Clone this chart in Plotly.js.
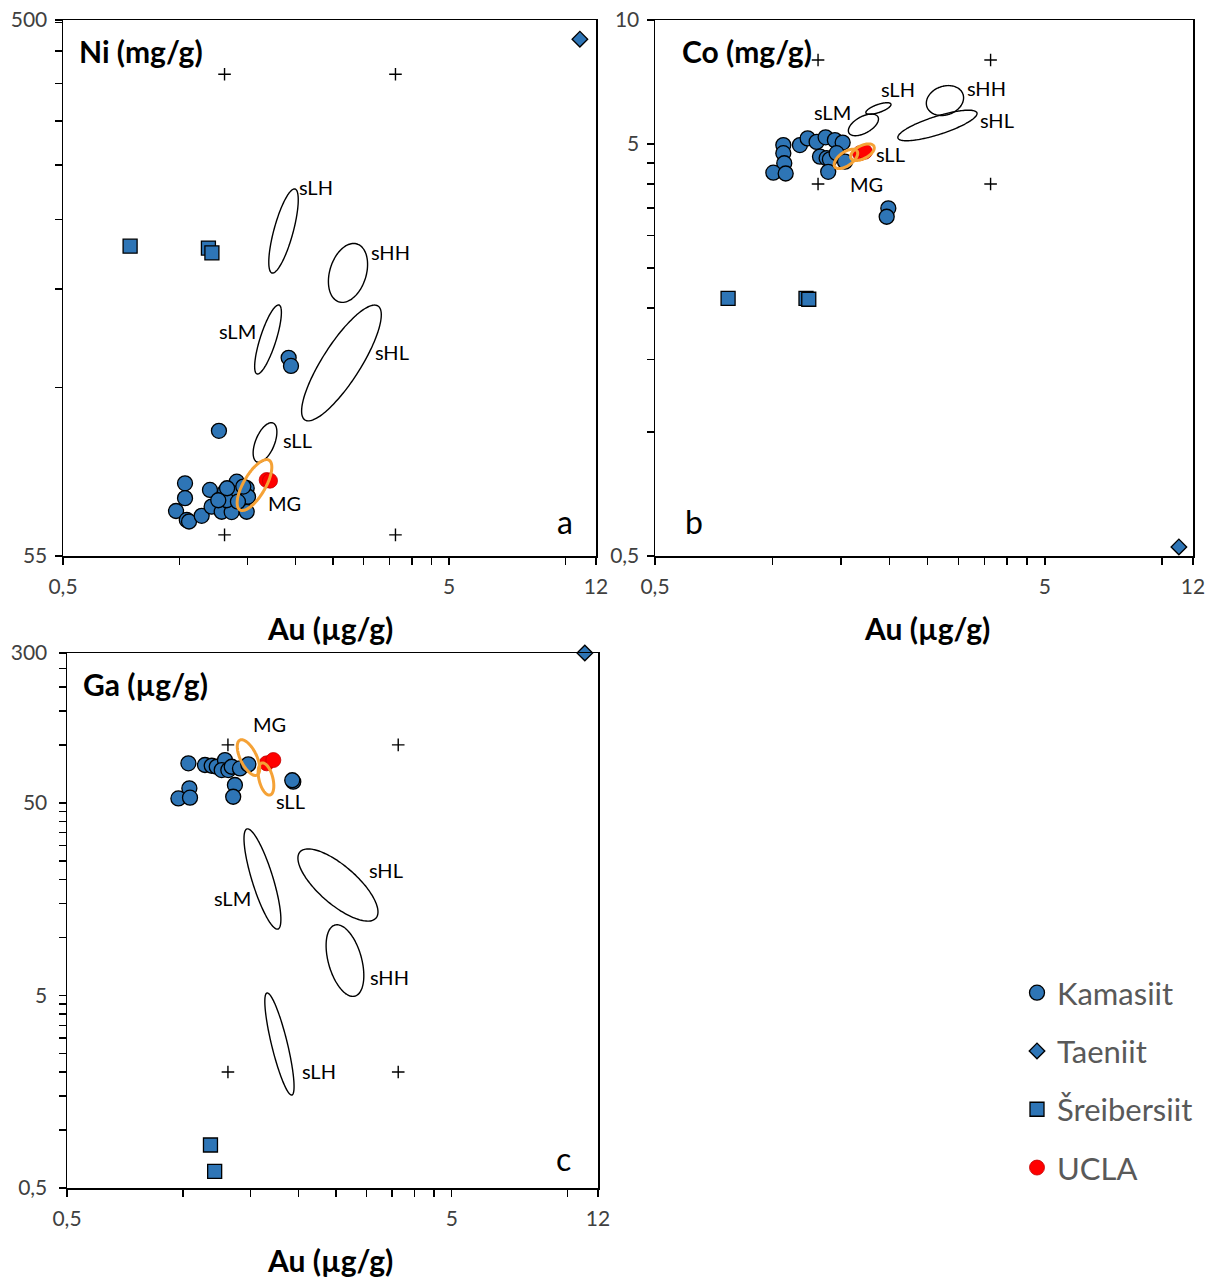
<!DOCTYPE html>
<html><head><meta charset="utf-8">
<script src="https://cdn.plot.ly/plotly-3.0.1.min.js"></script>
<style>html,body{margin:0;padding:0;background:#fff}</style>
</head><body><div id="chart" style="width:1215px;height:1279px"></div>
<script>
// ---------------- DATA ----------------
// Panel a: Au (µg/g) vs Ni (mg/g)
const kamAuA = [1.035,1.035,0.981,1.046,1.060,1.143,1.201,1.213,1.288,1.367,1.495,1.409,1.314,1.380,1.327,1.495,1.262,1.507,1.419,1.330,1.465,1.920,1.947,1.267];
const kamNi  = [74.2,69.8,66.2,63.8,63.4,64.9,72.2,67.4,66.0,65.9,66.0,74.7,71.7,71.2,69.2,72.7,69.2,70.2,68.8,72.7,73.2,124.4,120.3,92.1];
const taeAuA = [10.9];  const taeNi = [462];
const schAuA = [0.746,1.19,1.215]; const schNi = [197,195.5,191.6];
const uclaAuA = [1.684,1.718]; const uclaNi = [75.2,75.0];
const refNi = [400,400,60,60];

// Panel b: Au vs Co (mg/g)
const kamAuB = [1.067,1.067,1.073,1.006,1.082,1.177,1.232,1.299,1.370,1.447,1.515,1.325,1.378,1.405,1.462,1.391,1.536,1.984,1.965];
const kamCo  = [4.97,4.75,4.49,4.26,4.24,4.97,5.16,5.06,5.19,5.11,5.04,4.66,4.62,4.59,4.75,4.28,4.53,3.49,3.33];
const taeAuB = [11.04]; const taeCo = [0.526];
const schAuB = [0.77,1.22,1.24]; const schCo = [2.11,2.11,2.10];
const uclaAuB = [1.678,1.728]; const uclaCo = [4.75,4.79];
const refCo = [8,8,4,4];

// Panel c: Au vs Ga (µg/g)
const kamAuC = [1.034,1.142,1.189,1.225,1.287,1.262,1.313,1.340,1.408,1.480,1.366,1.352,1.040,0.974,1.044,1.937,1.925];
const kamGa  = [80.2,78.6,77.9,77.0,83.4,74.0,74.0,77.0,75.5,79.2,61.9,53.8,59.5,52.7,53.2,64.4,65.5];
const taeAuC = [11.09]; const taeGa = [300];
const schAuC = [1.18,1.21]; const schGa = [0.836,0.61];
const uclaAuC = [1.652,1.719]; const uclaGa = [80.2,83.4];
const refGa = [100,100,2,2];

const refAu = [1.31,3.63,1.31,3.63];

// Group fields (ellipses): [Au tip1, value tip1, Au tip2, value tip2, minor/major ratio]
const fieldNames = ['sLH','sHH','sLM','sHL','sLL','MG'];
const niFields = [[1.739,176.4,1.994,249.3,0.22],[2.592,156.6,2.886,198.8,0.6],[1.590,116.4,1.813,154.6,0.22],[2.116,96.3,3.270,154.0,0.28],[1.590,81.0,1.749,95.1,0.45],[1.436,66.5,1.708,81.6,0.38]];
const coFields = [[1.738,5.95,2.015,6.25,0.3],[2.493,6.15,3.083,6.61,0.75],[1.572,5.32,1.866,5.82,0.5],[2.100,5.17,3.349,5.95,0.22],[1.591,4.62,1.822,4.94,0.5],[1.447,4.40,1.649,4.81,0.5]];
const gaFields = [[1.655,5.15,1.921,1.52,0.15],[2.486,11.6,2.802,4.96,0.45],[1.468,36.6,1.767,11.06,0.2],[2.016,27.8,3.177,12.6,0.38],[1.606,80.5,1.685,54.9,0.42],[1.408,105.9,1.559,69.7,0.42]];

// tick labels
const xTicks = [0.5,5,12]; const xTickText = ['0,5','5','12'];
const niTicks = [55,500]; const niTickText = ['55','500'];
const coTicks = [0.5,5,10]; const coTickText = ['0,5','5','10'];
const gaTicks = [0.5,5,50,300]; const gaTickText = ['0,5','5','50','300'];
const xMinor = [1,1.5,2,2.5,3,3.5,4,4.5,10];
const niMinor = [110,165,220,275,330,385,440,495];
const coMinor = [1,1.5,2,2.5,3,3.5,4,4.5];
const gaMinor = [1,1.5,2,2.5,3,3.5,4,4.5,10,15,20,25,30,35,40,45,100,150,200,250];

// ---------------- LAYOUT / STYLE ----------------
const W = 1215, H = 1279;
const FONT = 'Lato, "Open Sans", sans-serif';
const BLUE = '#2E75B6', ORANGE = '#F5A236';
const L10 = Math.log10;
const panels = {
  a: {xa:'x', ya:'y', dx:[63/W,596/W], dy:[1-556/H,1-20/H], yr:[L10(55),L10(500)]},
  b: {xa:'x2', ya:'y2', dx:[655/W,1193/W], dy:[1-556/H,1-20/H], yr:[L10(0.5),1]},
  c: {xa:'x3', ya:'y3', dx:[67/W,598/W], dy:[1-1188/H,1-653/H], yr:[L10(0.5),L10(300)]}
};
const xr = [L10(0.5), L10(12)];

function ellipse(f, p){
  const kx = (p.dx[1]-p.dx[0])*W/(xr[1]-xr[0]);
  const ky = (p.dy[1]-p.dy[0])*H/(p.yr[1]-p.yr[0]);
  const X1=L10(f[0])*kx, Y1=L10(f[1])*ky, X2=L10(f[2])*kx, Y2=L10(f[3])*ky;
  const cx=(X1+X2)/2, cy=(Y1+Y2)/2, ux=(X2-X1)/2, uy=(Y2-Y1)/2;
  const vx=-uy*f[4], vy=ux*f[4];
  const xs=[], ys=[];
  for(let i=0;i<=120;i++){
    const t=2*Math.PI*i/120;
    xs.push(Math.pow(10,(cx+ux*Math.cos(t)+vx*Math.sin(t))/kx));
    ys.push(Math.pow(10,(cy+uy*Math.cos(t)+vy*Math.sin(t))/ky));
  }
  return {xs, ys};
}

const traces = [];
function addPanel(p, kam, tae, sch, ucla, ref, fields, orangeSet, legend){
  const base = {type:'scatter', mode:'markers', xaxis:p.xa, yaxis:p.ya, cliponaxis:false, hoverinfo:'x+y'};
  traces.push(Object.assign({}, base, {x:refAu, y:ref, showlegend:false,
    marker:{symbol:'cross-thin', size:9, line:{color:'#000', width:1.4}}}));
  traces.push(Object.assign({}, base, {x:kam[0], y:kam[1], name:'Kamasiit', legendgroup:'g1', legendrank:1, showlegend:legend,
    marker:{symbol:'circle', size:15, color:BLUE, line:{color:'#000', width:1.3}}}));
  traces.push(Object.assign({}, base, {x:tae[0], y:tae[1], name:'Taeniit', legendgroup:'g2', legendrank:2, showlegend:legend,
    marker:{symbol:'diamond', size:12, color:BLUE, line:{color:'#000', width:1.3}}}));
  traces.push(Object.assign({}, base, {x:sch[0], y:sch[1], name:'Šreibersiit', legendgroup:'g3', legendrank:3, showlegend:legend,
    marker:{symbol:'square', size:14, color:BLUE, line:{color:'#000', width:1.3}}}));
  traces.push(Object.assign({}, base, {x:ucla[0], y:ucla[1], name:'UCLA', legendgroup:'g4', legendrank:4, showlegend:legend,
    marker:{symbol:'circle', size:15, color:'#FF0000', line:{color:'#C00000', width:0.8}}}));
  fields.forEach((f,i)=>{
    const e = ellipse(f,p);
    const orange = orangeSet.indexOf(fieldNames[i])>=0;
    traces.push({type:'scatter', mode:'lines', xaxis:p.xa, yaxis:p.ya, x:e.xs, y:e.ys, showlegend:false, hoverinfo:'skip',
      line:{color: orange?ORANGE:'#000', width: orange?3:1.4, shape:'spline'}});
  });
}
addPanel(panels.a, [kamAuA,kamNi], [taeAuA,taeNi], [schAuA,schNi], [uclaAuA,uclaNi], refNi, niFields, ['MG'], true);
addPanel(panels.b, [kamAuB,kamCo], [taeAuB,taeCo], [schAuB,schCo], [uclaAuB,uclaCo], refCo, coFields, ['MG','sLL'], false);
addPanel(panels.c, [kamAuC,kamGa], [taeAuC,taeGa], [schAuC,schGa], [uclaAuC,uclaGa], refGa, gaFields, ['MG','sLL'], false);

const tickFont = {family:FONT, size:21, color:'#404040'};
function xAxis(p, anchor){
  return {domain:p.dx, anchor:anchor, type:'log', range:xr, tickmode:'array', tickvals:xTicks, ticktext:xTickText,
    ticks:'outside', ticklen:7, tickwidth:1.5, tickcolor:'#000', showline:true, linecolor:'#000', linewidth:1.5, mirror:true,
    showgrid:false, zeroline:false, tickfont:tickFont, ticklabelstandoff:4, fixedrange:true,
    minor:{tickvals:xMinor, ticks:'outside', ticklen:7, tickwidth:1.5, tickcolor:'#000', showgrid:false}};
}
function yAxis(p, anchor, tv, tt, mv, standoff){
  return {domain:p.dy, anchor:anchor, type:'log', range:p.yr, tickmode:'array', tickvals:tv, ticktext:tt,
    ticks:'outside', ticklen:7, tickwidth:1.5, tickcolor:'#000', showline:true, linecolor:'#000', linewidth:1.5, mirror:true,
    showgrid:false, zeroline:false, tickfont:tickFont, ticklabelstandoff:standoff, fixedrange:true,
    minor:{tickvals:mv, ticks:'outside', ticklen:7, tickwidth:1.5, tickcolor:'#000', showgrid:false}};
}

// label positions for group fields (data units), text anchor
const labelPos = {
  a: [['sLH',2.018,251.4,'left'],['sHH',3.10,192.4,'left'],['sLM',1.599,138.9,'right'],['sHL',3.175,127.4,'left'],['sLL',1.834,88.7,'left'],['MG',1.678,68.4,'left']],
  b: [['sLH',1.877,6.80,'left'],['sHH',3.12,6.84,'left'],['sLM',1.61,5.98,'right'],['sHL',3.37,5.72,'left'],['sLL',1.822,4.73,'left'],['MG',1.563,4.0,'left']],
  c: [['MG',1.503,128,'left'],['sLL',1.725,51.1,'left'],['sLM',1.52,16.0,'right'],['sHL',3.01,22.4,'left'],['sHH',3.03,6.23,'left'],['sLH',2.016,2.03,'left']]
};
const annotations = [];
Object.keys(labelPos).forEach(k=>{
  const p = panels[k];
  labelPos[k].forEach(l=>{
    annotations.push({xref:p.xa, yref:p.ya, x:L10(l[1]), y:L10(l[2]), text:l[0], showarrow:false, xanchor:l[3], yanchor:'middle',
      font:{family:FONT, size:20, color:'#000'}});
  });
});
function paperText(text, px, py, size, anchor){
  annotations.push({xref:'paper', yref:'paper', x:px/W, y:1-py/H, text:text, showarrow:false, xanchor:anchor, yanchor:'middle',
    font:{family:FONT, size:size, color:'#000'}});
}
paperText('<b>Ni (mg/g)</b>', 77, 51, 30, 'left');
paperText('<b>Co (mg/g)</b>', 680, 51, 30, 'left');
paperText('<b>Ga (µg/g)</b>', 81, 684, 30, 'left');
paperText('a', 565, 521, 32, 'center');
paperText('b', 694, 521, 32, 'center');
paperText('c', 563, 1158, 32, 'center');
paperText('<b>Au (µg/g)</b>', 330, 628, 30, 'center');
paperText('<b>Au (µg/g)</b>', 927, 628, 30, 'center');
paperText('<b>Au (µg/g)</b>', 330, 1260, 30, 'center');

const layout = {
  width:W, height:H, margin:{l:0,r:0,t:0,b:0}, paper_bgcolor:'#fff', plot_bgcolor:'#fff',
  font:{family:FONT},
  xaxis:xAxis(panels.a,'y'), yaxis:yAxis(panels.a,'x',niTicks,niTickText,niMinor,3),
  xaxis2:xAxis(panels.b,'y2'), yaxis2:yAxis(panels.b,'x2',coTicks,coTickText,coMinor,3),
  xaxis3:xAxis(panels.c,'y3'), yaxis3:yAxis(panels.c,'x3',gaTicks,gaTickText,gaMinor,7),
  showlegend:true,
  legend:{x:1017/W, y:1-966/H, xanchor:'left', yanchor:'top', font:{family:FONT, size:31, color:'#595959'},
    tracegroupgap:15, itemsizing:'trace', bgcolor:'rgba(0,0,0,0)'},
  annotations:annotations
};
Plotly.newPlot('chart', traces, layout, {displayModeBar:false, staticPlot:true});
</script></body></html>
